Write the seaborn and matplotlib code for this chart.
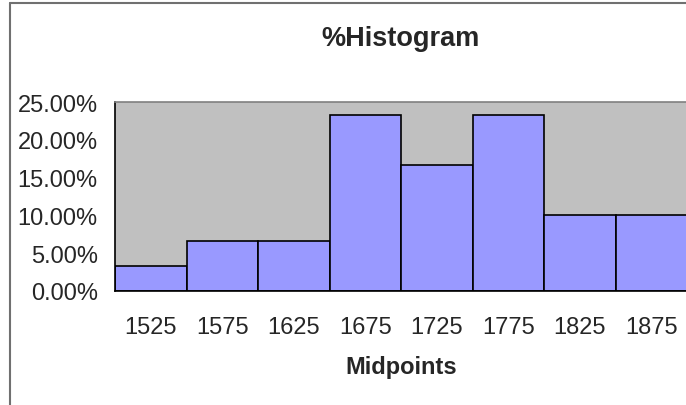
import numpy as np
import matplotlib
matplotlib.use('Agg')
import matplotlib.pyplot as plt
import seaborn as sns
from matplotlib.ticker import FuncFormatter
from matplotlib.lines import Line2D

# data
midpoints = [1525, 1575, 1625, 1675, 1725, 1775, 1825, 1875]
percent = [3.33, 6.67, 6.67, 23.33, 16.67, 23.33, 10.0, 10.0]
bin_edges = [1500, 1550, 1600, 1650, 1700, 1750, 1800, 1850, 1900]
y_ticks = [0, 0.05, 0.10, 0.15, 0.20, 0.25]

sns.set_style('white')
plt.rcParams['font.family'] = ['Liberation Sans', 'DejaVu Sans']

fig = plt.figure(figsize=(6.86, 4.06), dpi=100)
ax = fig.add_axes([115 / 686, 114 / 406, 572 / 686, 189 / 406])
ax.set_facecolor('#C0C0C0')

weights = [p / 100 for p in percent]
sns.histplot(x=midpoints, weights=weights, bins=bin_edges, ax=ax,
             color='#9999FF', alpha=1, edgecolor='black', linewidth=1.2)

ax.set_xlim(1500, 1900)
ax.set_ylim(0, 0.25)

# ticks at bin edges, labels at midpoints
ax.set_xticks(bin_edges)
ax.set_xticklabels([])
ax.set_xticks(midpoints, minor=True)
ax.set_xticklabels([str(m) for m in midpoints], minor=True)
ax.tick_params(axis='x', which='major', direction='out', length=5, width=1, color='black')
ax.tick_params(axis='x', which='minor', length=0, pad=18, labelsize=17)

ax.set_yticks(y_ticks)
ax.yaxis.set_major_formatter(FuncFormatter(lambda v, p: '%.2f%%' % (v * 100)))
ax.tick_params(axis='y', direction='inout', length=11, width=1, color='black', pad=7, labelsize=17)

ax.set_xlabel('Midpoints', fontsize=17, fontweight='bold', labelpad=12)
ax.set_ylabel('')
ax.set_title('%Histogram', fontsize=19.5, fontweight='bold', pad=41)

for side in ['left', 'bottom']:
    ax.spines[side].set_color('black')
    ax.spines[side].set_linewidth(1.2)
ax.spines['top'].set_color('#808080')
ax.spines['top'].set_linewidth(1.2)
ax.spines['right'].set_visible(False)

# outer chart border (right/bottom clipped)
bx, by = 10 / 686, 1 - 4 / 406
fig.add_artist(Line2D([bx, bx], [0, by], transform=fig.transFigure, color='#707070', linewidth=1.5))
fig.add_artist(Line2D([bx, 1], [by, by], transform=fig.transFigure, color='#707070', linewidth=1.5))

fig.savefig('out.png', dpi=100)
